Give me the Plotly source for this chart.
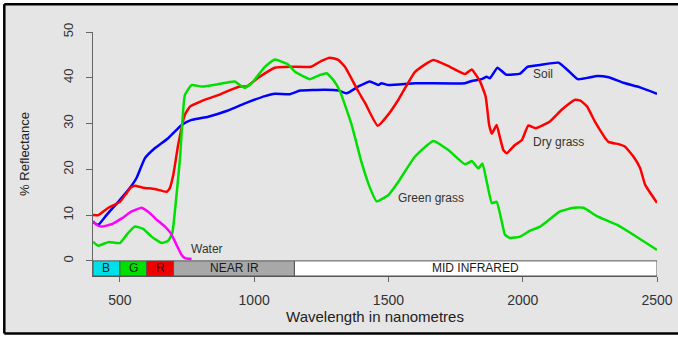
import plotly.graph_objects as go

# ---- data ----
soil_wl = [400, 420, 450, 494, 537, 562, 593, 630, 680, 730, 767, 829, 900, 966, 1040, 1078,
           1133, 1171, 1264, 1314, 1344, 1388, 1431, 1462, 1474, 1500, 1600, 1785, 1810, 1847,
           1866, 1878, 1906, 1938, 1990, 2018, 2065, 2133, 2167, 2205, 2278, 2320, 2375, 2437, 2500]
soil_refl = [8.5, 7.9, 10.0, 12.9, 15.9, 18.1, 22.4, 24.6, 26.8, 29.7, 30.8, 31.5, 32.8, 34.4, 36.0, 36.5,
             36.4, 37.2, 37.4, 37.2, 36.6, 38.1, 39.2, 38.4, 38.8, 38.4, 38.8, 38.8, 39.3, 39.7,
             40.2, 39.9, 42.2, 40.7, 40.9, 42.4, 42.8, 43.3, 41.7, 39.7, 40.4, 40.1, 38.9, 37.9, 36.5]

dry_wl = [400, 420, 457, 500, 525, 540, 556, 587, 630, 674, 686, 699, 717, 742, 761, 804, 866, 910,
          947, 972, 1015, 1077, 1140, 1212, 1251, 1282, 1313, 1338, 1388, 1413, 1460, 1500, 1537,
          1599, 1667, 1729, 1785, 1810, 1841, 1862, 1875, 1885, 1903, 1915, 1928, 1940, 1971, 1997,
          2021, 2048, 2100, 2145, 2195, 2215, 2240, 2270, 2319, 2357, 2380, 2412, 2437, 2456, 2500]
dry_refl = [10.0, 10.0, 11.6, 12.9, 14.8, 16.0, 16.4, 16.0, 15.7, 15.1, 15.9, 18.8, 25.3, 31.9, 33.7, 34.9, 36.2, 37.3,
            38.1, 38.1, 40.0, 42.2, 42.4, 42.4, 43.7, 44.4, 43.9, 42.4, 37.0, 34.5, 29.5, 32.0, 35.2,
            41.3, 43.9, 42.4, 40.8, 41.8, 39.2, 35.9, 29.7, 27.8, 29.7, 27.0, 24.2, 23.5, 25.3, 26.4,
            29.6, 29.0, 30.4, 33.0, 35.2, 35.0, 33.7, 30.3, 26.0, 25.5, 25.0, 22.8, 20.3, 16.6, 12.7]

green_wl = [400, 419, 457, 500, 525, 556, 587, 618, 656, 680, 695, 705, 724, 742, 767, 804, 866, 910,
            928, 947, 966, 991, 1040, 1077, 1127, 1152, 1208, 1245, 1270, 1295, 1320, 1363, 1400,
            1431, 1456, 1475, 1500, 1537, 1599, 1667, 1723, 1785, 1810, 1835, 1850, 1866, 1885, 1903,
            1922, 1934, 1953, 1990, 2027, 2065, 2139, 2189, 2226, 2276, 2350, 2412, 2500]
green_refl = [4.2, 3.3, 4.1, 3.9, 5.7, 7.5, 7.0, 5.3, 3.9, 4.4, 6.0, 10.8, 22.4, 36.2, 38.4, 38.1, 38.6, 39.1,
              39.2, 38.4, 37.8, 38.8, 42.4, 44.0, 42.9, 41.3, 39.7, 40.6, 41.0, 39.5, 37.0, 29.7, 21.5,
              16.0, 13.0, 13.5, 14.4, 17.3, 22.8, 26.2, 24.2, 21.1, 21.8, 20.2, 21.3, 17.3, 12.6, 12.9,
              8.6, 5.7, 5.0, 5.3, 6.6, 7.5, 10.8, 11.6, 11.6, 9.8, 7.9, 5.7, 2.4]

water_wl = [400, 413, 432, 469, 507, 544, 581, 612, 637, 668, 690, 711, 730, 742, 767]
water_refl = [8.7, 7.9, 7.5, 8.0, 9.3, 10.8, 11.6, 10.4, 9.0, 7.5, 6.0, 3.5, 1.3, 0.6, 0.4]

band_labels = ["B", "G", "R", "NEAR IR", "MID INFRARED"]
band_start = [400, 500, 600, 700, 1150]
band_end = [500, 600, 700, 1150, 2500]
band_colors = ["#00e0e8", "#00e000", "#ee0000", "#a8a8a8", "#ffffff"]

x_ticks = [500, 1000, 1500, 2000, 2500]
y_ticks = [0, 10, 20, 30, 40, 50]

W, H = 678, 337
ML, MR, MT, MB = 93, 21, 32, 61
BAR_LOW = -3.3
FONT = "Liberation Sans, Arial, Helvetica, sans-serif"
BG = "#e5e5e5"

fig = go.Figure()
series = [
    (soil_wl, soil_refl, "#0000ff", "Soil"),
    (dry_wl, dry_refl, "#ff0000", "Dry grass"),
    (green_wl, green_refl, "#00e000", "Green grass"),
    (water_wl, water_refl, "#ff00ff", "Water"),
]
for xs, ys, col, name in series:
    fig.add_trace(go.Scatter(x=xs, y=ys, mode="lines", name=name,
                             line=dict(color=col, width=2.5, shape="spline", smoothing=0.4)))

shapes = []
pw = W - ML - MR
ph = H - MT - MB
def px2paperx(p):
    return (p - ML) / pw
def py2papery(p):
    return 1 - (p - MT) / ph
# outer frame: gray fill plus black left, top and bottom edges (right edge lies off the picture)
fx0, fx1, fy0, fy1 = px2paperx(4.3), px2paperx(W), py2papery(333.5), py2papery(4.3)
shapes.append(dict(type="rect", xref="paper", yref="paper", x0=fx0, x1=fx1, y0=fy0, y1=fy1,
                   line=dict(width=0), fillcolor=BG, layer="below"))
for (a0, b0, a1, b1) in [(fx0, fy0, fx0, fy1), (fx0, fy1, fx1, fy1), (fx0, fy0, fx1, fy0)]:
    shapes.append(dict(type="line", xref="paper", yref="paper", x0=a0, y0=b0, x1=a1, y1=b1,
                       line=dict(color="black", width=2.5), layer="below"))
annotations = []
for lab, s, e, c in zip(band_labels, band_start, band_end, band_colors):
    shapes.append(dict(type="rect", xref="x", yref="y", x0=s, x1=e, y0=BAR_LOW, y1=0,
                       fillcolor=c, line=dict(color="#555555", width=1), layer="above"))
    annotations.append(dict(x=(s + e) / 2, y=BAR_LOW / 2, xref="x", yref="y", text=lab,
                            showarrow=False, font=dict(family=FONT, size=12, color="#1a1a1a")))

for txt, x, y in [("Soil", 2076, 40.8), ("Dry grass", 2132, 26.0),
                  ("Green grass", 1659, 13.8), ("Water", 825, 2.6)]:
    annotations.append(dict(x=x, y=y, xref="x", yref="y", text=txt, showarrow=False,
                            font=dict(family=FONT, size=12, color="#333333")))

fig.update_layout(
    width=W, height=H,
    margin=dict(l=ML, r=MR, t=MT, b=MB, autoexpand=False),
    paper_bgcolor="white", plot_bgcolor=BG,
    showlegend=False,
    shapes=shapes, annotations=annotations,
    font=dict(family=FONT, color="#333333"),
)
fig.update_xaxes(range=[400, 2500], tickvals=x_ticks, ticks="outside", ticklen=5,
                 tickcolor="#666666", showgrid=False, zeroline=False, automargin=False,
                 showline=True, linecolor="#555555", linewidth=1,
                 tickfont=dict(family=FONT, size=14, color="#333333"),
                 ticklabelstandoff=6,
                 title=dict(text="Wavelength in nanometres", standoff=0,
                            font=dict(family=FONT, size=15, color="#222222")))
fig.update_yaxes(range=[BAR_LOW, 50], tickvals=y_ticks, ticks="outside", ticklen=6,
                 tickcolor="#666666", showgrid=False, zeroline=False, automargin=False,
                 showline=True, linecolor="#666666", linewidth=1,
                 tickangle=-90,
                 tickfont=dict(family=FONT, size=13, color="#333333"),
                 ticklabelstandoff=8,
                 title=dict(text="% Reflectance", standoff=28,
                            font=dict(family=FONT, size=13, color="#222222")))

fig.write_html("out.html", config={"displayModeBar": False},
               post_script="document.body.style.margin='0';document.body.style.overflow='hidden';")
